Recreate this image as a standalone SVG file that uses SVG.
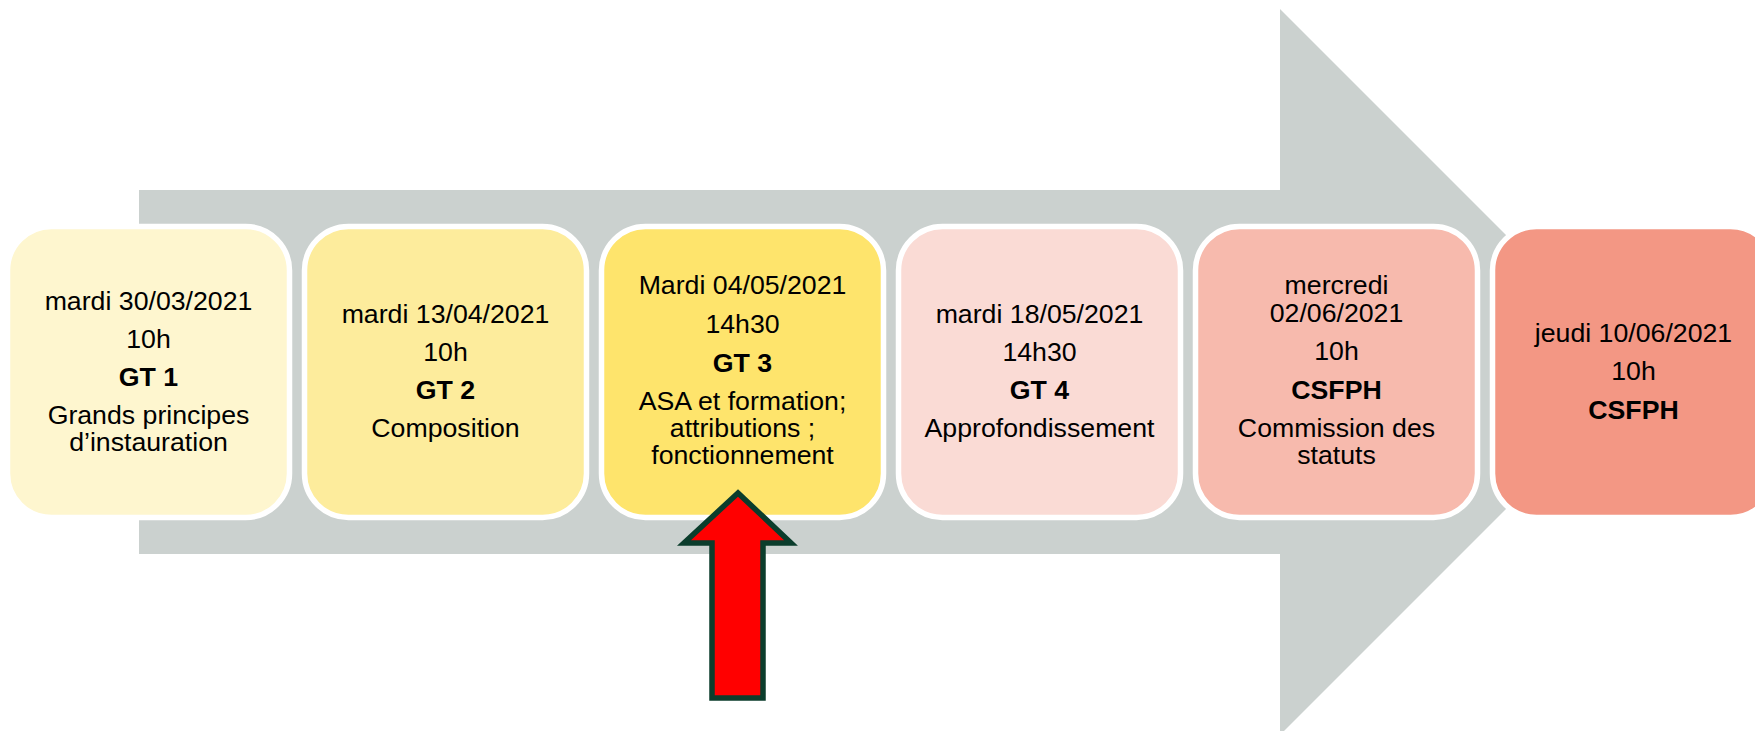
<svg xmlns="http://www.w3.org/2000/svg" width="1755" height="731" viewBox="0 0 1755 731">
  <style>
    .box { stroke: #FFFFFF; stroke-width: 5.5; }
    .t { font-family: "Liberation Sans", Arial, sans-serif; font-size: 26.7px; fill: #000000; text-anchor: middle; }
    .b { font-weight: bold; }
  </style>
  <rect x="0" y="0" width="1755" height="731" fill="#FFFFFF"/>
  <g id="connectors">
    <polygon id="timeline-arrow" points="139,190 1280,190 1280,9 1643,372 1280,735 1280,554 139,554" fill="#CBD1CF"/>
  </g>
  <g id="node-gt1">
    <rect class="box" x="7.5" y="226.5" width="282" height="291" rx="44" fill="#FEF6CF"/>
    <text class="t" x="148.5" y="309.5">mardi 30/03/2021</text>
    <text class="t" x="148.5" y="348">10h</text>
    <text class="t b" x="148.5" y="386">GT 1</text>
    <text class="t" x="148.5" y="423.5">Grands principes</text>
    <text class="t" x="148.5" y="451">d’instauration</text>
  </g>
  <g id="node-gt2">
    <rect class="box" x="304.5" y="226.5" width="282" height="291" rx="44" fill="#FDEC9C"/>
    <text class="t" x="445.5" y="323">mardi 13/04/2021</text>
    <text class="t" x="445.5" y="361">10h</text>
    <text class="t b" x="445.5" y="399">GT 2</text>
    <text class="t" x="445.5" y="437">Composition</text>
  </g>
  <g id="node-gt3">
    <rect class="box" x="601.5" y="226.5" width="282" height="291" rx="44" fill="#FEE46C"/>
    <text class="t" x="742.5" y="294">Mardi 04/05/2021</text>
    <text class="t" x="742.5" y="333">14h30</text>
    <text class="t b" x="742.5" y="371.5">GT 3</text>
    <text class="t" x="742.5" y="409.5">ASA et formation;</text>
    <text class="t" x="742.5" y="437">attributions ;</text>
    <text class="t" x="742.5" y="464">fonctionnement</text>
  </g>
  <g id="node-gt4">
    <rect class="box" x="898.5" y="226.5" width="282" height="291" rx="44" fill="#FADBD5"/>
    <text class="t" x="1039.5" y="323">mardi 18/05/2021</text>
    <text class="t" x="1039.5" y="361">14h30</text>
    <text class="t b" x="1039.5" y="399">GT 4</text>
    <text class="t" x="1039.5" y="437">Approfondissement</text>
  </g>
  <g id="node-csfph1">
    <rect class="box" x="1195.5" y="226.5" width="282" height="291" rx="44" fill="#F7BAAD"/>
    <text class="t" x="1336.5" y="294">mercredi</text>
    <text class="t" x="1336.5" y="321.5">02/06/2021</text>
    <text class="t" x="1336.5" y="360">10h</text>
    <text class="t b" x="1336.5" y="398.5">CSFPH</text>
    <text class="t" x="1336.5" y="436.5">Commission des</text>
    <text class="t" x="1336.5" y="463.5">statuts</text>
  </g>
  <g id="node-csfph2">
    <rect class="box" x="1492.5" y="226.5" width="282" height="291" rx="44" fill="#F39784"/>
    <text class="t" x="1633.5" y="342">jeudi 10/06/2021</text>
    <text class="t" x="1633.5" y="380">10h</text>
    <text class="t b" x="1633.5" y="418.5">CSFPH</text>
  </g>
  <g id="current-marker">
    <path d="M738,493 L791,543 L763,543 L763,698 L712,698 L712,543 L684,543 Z" fill="#FF0000" stroke="#0B3D2C" stroke-width="5.5" stroke-linejoin="miter"/>
  </g>
</svg>
